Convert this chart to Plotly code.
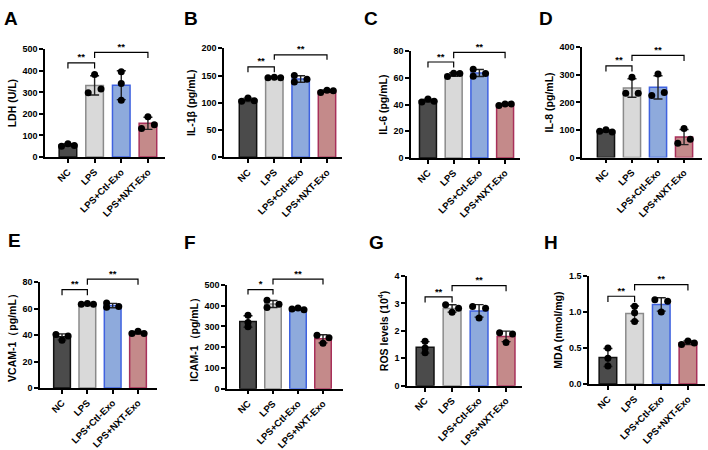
import numpy as np
import plotly.graph_objects as go

W, H = 708, 450
FONT = "Arial, 'Liberation Sans', sans-serif"

# ---------------- data ----------------
groups = ["NC", "LPS", "LPS+Ctl-Exo", "LPS+NXT-Exo"]
groups_b = ["NC", "LPS", "LPS+Ctl+Exo", "LPS+NXT-Exo"]

ldh = [[50, 62, 54], [298, 383, 316], [396, 341, 263], [132, 187, 150]]
il1b = [[103, 109, 104], [146, 147, 146], [150, 138, 143], [119, 123, 122]]
il6 = [[42.0, 44.2, 42.5], [61.0, 63.4, 63.2], [66.5, 61.2, 63.3], [39.3, 40.5, 40.5]]
il8 = [[95, 101, 93], [233, 291, 233], [225, 303, 236], [52, 105, 66]]
vcam1 = [[40.5, 36.1, 39.3], [63.3, 63.8, 63.2], [64.2, 61.1, 61.6], [41.2, 42.8, 41.2]]
icam1 = [[354, 299, 319], [426, 392, 407], [384, 389, 381], [257, 219, 245]]
ros = [[1.62, 1.20, 1.38], [2.95, 2.68, 2.83], [2.89, 2.47, 2.83], [1.93, 1.58, 1.89]]
mda = [[0.50, 0.25, 0.36], [1.08, 0.87, 0.99], [1.17, 1.00, 1.15], [0.55, 0.60, 0.57]]

titles = ["LDH (U/L)", "IL-1β (pg/mL)", "IL-6 (pg/mL)", "IL-8 (pg/mL)",
          "VCAM-1（pg/mL）", "ICAM-1（pg/mL）", "ROS levels (10<sup>4</sup>)", "MDA (nmol/mg)"]
letters = ["A", "B", "C", "D", "E", "F", "G", "H"]
y_max = [500, 200, 80, 400, 80, 500, 4, 1.5]
y_dtick = [100, 50, 20, 100, 20, 100, 1, 0.5]
stars_first = ["**", "**", "**", "**", "**", "*", "**", "**"]
stars_second = ["**"] * 8

# ---------------- styling / layout ----------------
fill_colors = ["#4b4b4b", "#d9d9d9", "#8eaadc", "#c48a8a"]
line_colors = ["#111111", "#8a8a8a", "#3f62e0", "#a8305a"]

# jitter pattern of the three dots in each group (-1 left, 0 centre, 1 right)
jitters = [
    [[-1, 0, 1], [-1, 0, 1], [0, 0, 0], [-1, 0, 1]],
    [[-1, 0, 1], [-1, 0, 1], [-1, -1, 1], [-1, 0, 1]],
    [[-1, 0, 1], [-1, 0, 1], [-1, -1, 1], [-1, 0, 1]],
    [[-1, 0, 1], [-1, 0, 1], [-1, 0, 1], [-1, 0, 1]],
    [[-1, 0, 1], [-1, 0, 1], [-1, -1, 1], [-1, 0, 1]],
    [[0, 0, 0], [-1, -1, 1], [-1, 0, 1], [-1, 0, 1]],
    [[0, 0, 0], [-1, 0, 1], [-1, 0, 1], [-1, 0, 1]],
    [[0, 0, 0], [0, 0, 0], [-1, 0, 1], [-1, 0, 1]],
]
# bracket heights in data units: (bracket1 top, bracket1 foot, bracket2 top, bracket2 foot)
brackets = [
    (437, 411, 486, 460),
    (166, 156, 188, 179),
    (71.9, 67.7, 79.1, 74.8),
    (333, 312, 371, 350),
    (74.4, 70.0, 82.2, 78.0),
    (478, 454, 528, 502),
    (3.24, 3.04, 3.65, 3.45),
    (1.22, 1.14, 1.38, 1.30),
]
# plot boxes in px: left, right, top (max tick), bottom (zero)
boxes = [
    (45, 165, 46, 158), (224, 342, 45, 158.3), (411, 520, 48, 159), (582, 702, 44, 158.5),
    (40, 157, 288, 398), (227, 343, 291, 398.7), (407, 522, 281.7, 395.7), (589, 705, 281.7, 394),
]
x_ranges = [(-0.86, 3.64), (-0.91, 3.57), (-0.66, 3.58), (-0.92, 3.69),
            (-0.87, 3.75), (-0.84, 3.80), (-0.67, 3.59), (-0.71, 3.64)]
letter_pos = [(2, 1), (182, 1), (362, 1), (537, 1), (6, 232), (182, 234), (367, 234), (542, 234)]

datasets = [ldh, il1b, il6, il8, vcam1, icam1, ros, mda]

fig = go.Figure()
layout = dict(width=W, height=H, margin=dict(l=0, r=0, t=0, b=0),
              paper_bgcolor="white", plot_bgcolor="rgba(0,0,0,0)", showlegend=False,
              font=dict(family=FONT, color="black"))
annotations = []
EXTRA = 40  # px of headroom for significance brackets

for i in range(8):
    n = i + 1
    xs = "x" if n == 1 else f"x{n}"
    ys = "y" if n == 1 else f"y{n}"
    yb = f"y{n + 8}"
    data = np.array(datasets[i], dtype=float)
    means = data.mean(axis=1)
    sds = data.std(axis=1, ddof=1)
    cats = groups_b if i == 1 else groups
    xpos = np.arange(4)

    fig.add_trace(go.Bar(
        x=xpos, y=means, width=0.66, xaxis=xs, yaxis=ys,
        marker=dict(color=fill_colors, line=dict(color=line_colors, width=1.5)),
        error_y=dict(type="data", array=sds, visible=True, color="#222222", thickness=1.4, width=4.5),
        hoverinfo="skip"))
    jx = (xpos[:, None] + 0.24 * np.array(jitters[i])).ravel()
    fig.add_trace(go.Scatter(
        x=jx, y=data.ravel(), mode="markers", xaxis=xs, yaxis=ys,
        marker=dict(color="black", size=7), cliponaxis=False, hoverinfo="skip"))

    b1t, b1f, b2t, b2f = brackets[i]
    fig.add_trace(go.Scatter(x=[0, 0, 1, 1], y=[b1f, b1t, b1t, b1f], mode="lines",
                             xaxis=xs, yaxis=yb, line=dict(color="black", width=1.2), hoverinfo="skip"))
    fig.add_trace(go.Scatter(x=[1, 1, 3, 3], y=[b2f, b2t, b2t, b2f], mode="lines",
                             xaxis=xs, yaxis=yb, line=dict(color="black", width=1.2), hoverinfo="skip"))
    fig.add_trace(go.Scatter(x=[0.5, 2], y=[b1t, b2t], mode="text", text=[stars_first[i], stars_second[i]],
                             textposition="top center", xaxis=xs, yaxis=yb, cliponaxis=False,
                             textfont=dict(size=9.5, family=FONT, weight="bold", color="black"),
                             hoverinfo="skip"))

    left, right, top, bottom = boxes[i]
    xk = "xaxis" if n == 1 else f"xaxis{n}"
    yk = "yaxis" if n == 1 else f"yaxis{n}"
    ybk = f"yaxis{n + 8}"
    layout[xk] = dict(domain=[left / W, right / W], range=list(x_ranges[i]), anchor=ys,
                      showline=True, linecolor="black", linewidth=1.5, ticks="outside",
                      ticklen=4, tickwidth=1.5, tickcolor="black", tickvals=list(xpos), ticktext=cats,
                      tickangle=-45, tickfont=dict(size=9.5, family=FONT, weight="bold"),
                      showgrid=False, zeroline=False, fixedrange=True)
    layout[yk] = dict(domain=[1 - bottom / H, 1 - top / H], range=[0, y_max[i]], anchor=xs,
                      showline=True, linecolor="black", linewidth=1.5, ticks="outside",
                      ticklen=4, tickwidth=1.5, tickcolor="black", dtick=y_dtick[i],
                      tickformat=".1f" if i == 7 else "d",
                      tickfont=dict(size=9, family=FONT, weight="bold"),
                      title=dict(text=titles[i], standoff=4,
                                 font=dict(size=10.5, family=FONT, weight="bold", color="black")),
                      showgrid=False, zeroline=False, fixedrange=True)
    span = bottom - top
    layout[ybk] = dict(domain=[1 - bottom / H, 1 - (top - EXTRA) / H],
                       range=[0, y_max[i] * (span + EXTRA) / span], anchor=xs,
                       visible=False, fixedrange=True)

    lx, ly = letter_pos[i]
    annotations.append(dict(text=letters[i], xref="paper", yref="paper", x=lx / W, y=1 - ly / H,
                            xanchor="left", yanchor="top", showarrow=False,
                            font=dict(size=19, family=FONT, weight="bold", color="black")))

layout["annotations"] = annotations
fig.update_layout(**layout)
fig.write_html("out.html")
